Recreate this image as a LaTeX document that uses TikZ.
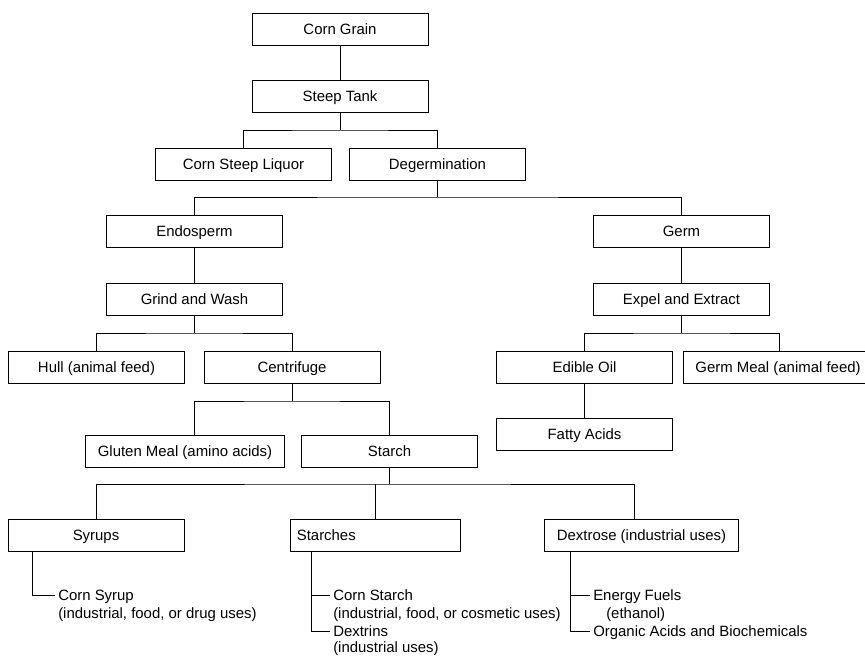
\documentclass[tikz,border=0pt]{standalone}
\usepackage{fontspec}
\setmainfont{Liberation Sans}
\usetikzlibrary{positioning}
\tikzset{
  stagebox/.style={draw, line width=0.7pt, minimum width=132pt, minimum height=24pt,
    inner xsep=9pt, inner ysep=0pt, text height=9pt, text depth=1pt,
    font=\fontsize{11.2}{13.7}\selectfont},
  usetext/.style={anchor=west, inner xsep=3pt, inner ysep=0pt, text height=9pt, text depth=1pt,
    font=\fontsize{11.2}{13.7}\selectfont},
  link/.style={line width=0.7pt}
}
\begin{document}
\begin{tikzpicture}[x=0.75pt,y=-0.75pt]
\useasboundingbox (0,0) rectangle (865,656);
% steeping and degermination
\node[stagebox] (grain) at (340,29) {Corn Grain};
\node[stagebox] (tank) at (340,96) {Steep Tank};
\node[stagebox] (liquor) at (243.5,164) {Corn Steep Liquor};
\node[stagebox] (degerm) at (437.5,164) {Degermination};
\draw[link] (grain) -- (tank);
\coordinate (j1) at (340,130);
\draw[link] (tank) -- (j1);
\draw[link] (liquor.north) |- (j1) -| (degerm.north);
% endosperm side
\node[stagebox] (endo) at (194.5,231) {Endosperm};
\node[stagebox] (germ) at (681.5,231) {Germ};
\coordinate (j2) at (437.5,197);
\draw[link] (degerm) -- (j2);
\draw[link] (endo.north) |- (j2) -| (germ.north);
\node[stagebox] (grind) at (194.5,299) {Grind and Wash};
\draw[link] (endo) -- (grind);
\node[stagebox] (hull) at (96.5,367) {Hull (animal feed)};
\node[stagebox] (centri) at (292,367) {Centrifuge};
\coordinate (j3) at (194.5,333);
\draw[link] (grind) -- (j3);
\draw[link] (hull.north) |- (j3) -| (centri.north);
\node[stagebox] (gluten) at (185,451.5) {Gluten Meal (amino acids)};
\node[stagebox] (starch) at (389.5,451.5) {Starch};
\coordinate (j4) at (292,401);
\coordinate (g1) at (194,435);
\draw[link] (centri) -- (j4);
\draw[link] (g1) |- (j4) -| (starch.north);
% starch products
\node[stagebox] (syrups) at (96,535.5) {Syrups};
\node[stagebox, minimum width=128pt, text width=118pt, align=left, inner xsep=5pt] (starches) at (375.5,535.5) {Starches};
\node[stagebox] (dextrose) at (641.5,535.5) {Dextrose (industrial uses)};
\coordinate (j5) at (389.5,484);
\coordinate (d1) at (634,519);
\draw[link] (starch) -- (j5);
\draw[link] (syrups.north) |- (j5) -| (d1);
\draw[link] (starches.north) -- (starches.north |- j5);
% germ side
\node[stagebox] (expel) at (681.5,299) {Expel and Extract};
\draw[link] (germ) -- (expel);
\node[stagebox] (oil) at (584.5,367) {Edible Oil};
\node[stagebox, anchor=west] (germmeal) at (683,367) {Germ Meal (animal feed)};
\node[stagebox] (fatty) at (584.5,434) {Fatty Acids};
\coordinate (j6) at (681.5,333);
\coordinate (m1) at (779,351);
\draw[link] (expel) -- (j6);
\draw[link] (oil.north) |- (j6) -| (m1);
\draw[link] (oil) -- (fatty);
% end uses
\node[usetext] (csyrup) at (54,595) {Corn Syrup};
\node[usetext] (csyrupuse) at (54,613) {(industrial, food, or drug uses)};
\coordinate (u1) at (32,552);
\draw[link] (u1) |- ([xshift=1pt]csyrup.west);
\node[usetext] (cstarch) at (329,595) {Corn Starch};
\node[usetext] (cstarchuse) at (329,613) {(industrial, food, or cosmetic uses)};
\node[usetext] (dextrins) at (329,631) {Dextrins};
\node[usetext] (dextrinsuse) at (329,647) {(industrial uses)};
\coordinate (u2) at (311,552);
\draw[link] (u2) |- ([xshift=1pt]cstarch.west);
\draw[link] (u2) |- ([xshift=1pt]dextrins.west);
\node[usetext] (fuels) at (589,595) {Energy Fuels};
\node[usetext] (ethanol) at (602,613) {(ethanol)};
\node[usetext] (acids) at (589,631) {Organic Acids and Biochemicals};
\coordinate (u3) at (570,552);
\draw[link] (u3) |- ([xshift=1pt]fuels.west);
\draw[link] (u3) |- ([xshift=1pt]acids.west);
\end{tikzpicture}
\end{document}
